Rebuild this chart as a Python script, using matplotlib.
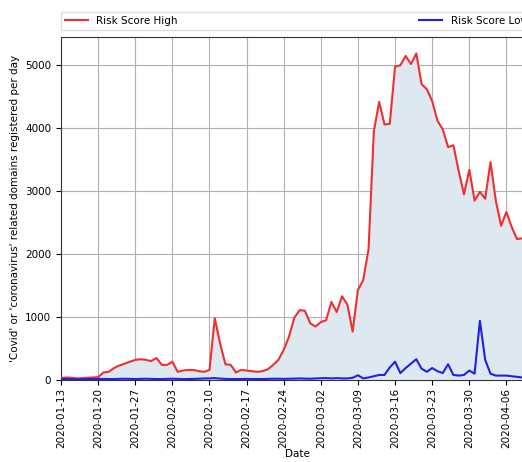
import numpy as np
import pandas as pd
import matplotlib
matplotlib.use('Agg')
import matplotlib.pyplot as plt
import matplotlib.dates as mdates

# ==========================================
# DATA: daily domain registrations
# ==========================================
start_date = '2020-01-13'
n_days = 90

risk_high = [
    30, 40, 35, 25, 30, 35, 40, 45, 120, 130,          # Jan 13 - Jan 22
    190, 230, 260, 290, 320, 330, 320, 300, 350, 240,  # Jan 23 - Feb 01
    240, 290, 130, 150, 160, 160, 140, 130, 160, 980,  # Feb 02 - Feb 11
    580, 250, 240, 120, 160, 150, 140, 130, 140, 170,  # Feb 12 - Feb 21
    240, 320, 480, 690, 990, 1110, 1100, 900, 850, 920,  # Feb 22 - Mar 02
    950, 1240, 1080, 1330, 1200, 770, 1430, 1590, 2080, 3950,  # Mar 03 - Mar 12
    4420, 4060, 4070, 4980, 5000, 5150, 5020, 5190, 4700, 4620,  # Mar 13 - Mar 22
    4430, 4120, 3980, 3700, 3730, 3320, 2950, 3340, 2850, 2990,  # Mar 23 - Apr 01
    2880, 3460, 2850, 2450, 2670, 2430, 2240, 2250, 2230, 2180,  # Apr 02 - Apr 11
]

risk_low = [
    15, 15, 12, 10, 12, 15, 15, 15, 18, 15,
    15, 18, 20, 18, 15, 18, 20, 18, 15, 15,
    18, 20, 18, 15, 15, 18, 20, 25, 25, 30,
    22, 18, 15, 15, 15, 18, 15, 15, 15, 18,
    20, 20, 18, 20, 22, 25, 22, 20, 25, 28,
    30, 25, 30, 25, 25, 35, 75, 25, 40, 60,
    80, 80, 200, 290, 110, 190, 260, 330, 180, 130,
    190, 140, 110, 250, 80, 70, 80, 150, 100, 940,
    320, 100, 70, 70, 70, 60, 50, 40, 40, 40,
]

dates = pd.date_range(start_date, periods=n_days, freq='D')

# ==========================================
# PLOT
# ==========================================
plt.rcParams['font.family'] = ['DejaVu Sans']
plt.rcParams['font.size'] = 7.5

fig = plt.figure(figsize=(5.22, 4.62), dpi=100)
# the original screenshot is cropped on the right, so the axes run past the figure edge
ax = fig.add_axes([0.1169, 0.1775, 0.904, 0.7424])

ax.fill_between(dates, risk_high, color='#dde8f1', zorder=1)
ax.plot(dates, risk_high, color='#f03030', linewidth=1.5, label='Risk Score High', zorder=3)
ax.plot(dates, risk_low, color='#2020e8', linewidth=1.5, label='Risk Score Low', zorder=3)

ax.set_xlim(dates[0], dates[-1])
ax.set_ylim(0, 5450)
ax.set_yticks([0, 1000, 2000, 3000, 4000, 5000])

ax.xaxis.set_major_locator(mdates.WeekdayLocator(byweekday=mdates.MO))
ax.xaxis.set_major_formatter(mdates.DateFormatter('%Y-%m-%d'))
plt.setp(ax.get_xticklabels(), rotation=90)
ax.tick_params(axis='x', pad=2)

ax.grid(True, color='#b0b0b0', linewidth=0.8)
ax.set_axisbelow(True)
for side in ['left', 'bottom', 'top', 'right']:
    ax.spines[side].set_color('#333333')

ax.set_xlabel('Date', labelpad=1)
ax.set_ylabel("'Covid' or 'coronavirus' related domains registered per day")

ax.legend(loc='lower left', bbox_to_anchor=(0, 1.02, 1, 0.1), ncol=2,
          mode='expand', borderaxespad=0, fancybox=False, framealpha=1,
          edgecolor='#dddddd', handlelength=2.2)

fig.savefig('out.png', dpi=100)
